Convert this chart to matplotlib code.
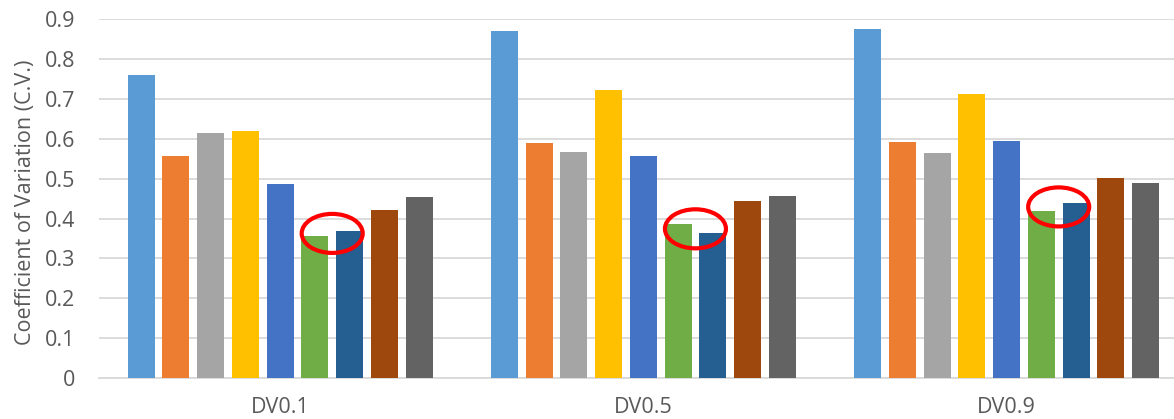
import matplotlib
matplotlib.use("Agg")
import matplotlib.pyplot as plt
from matplotlib.patches import Ellipse
import numpy as np

# Groups and per-method coefficient of variation values
categories = ["DV0.1", "DV0.5", "DV0.9"]
series_values = [
    [0.761, 0.871, 0.876],
    [0.557, 0.591, 0.592],
    [0.616, 0.567, 0.564],
    [0.621, 0.724, 0.713],
    [0.488, 0.558, 0.595],
    [0.357, 0.386, 0.420],
    [0.369, 0.363, 0.439],
    [0.421, 0.444, 0.502],
    [0.454, 0.457, 0.489],
]
series_colors = ["#5B9BD5", "#ED7D31", "#A5A5A5", "#FFC000", "#4472C4",
                 "#70AD47", "#255E91", "#9E480E", "#636363"]
y_ticks = [0, 0.1, 0.2, 0.3, 0.4, 0.5, 0.6, 0.7, 0.8, 0.9]
y_tick_labels = ["0", "0.1", "0.2", "0.3", "0.4", "0.5", "0.6", "0.7", "0.8", "0.9"]
highlight_pair = (5, 6)  # series circled in each group

plt.rcParams["font.family"] = ["Open Sans", "DejaVu Sans"]
text_color = "#595959"
grid_color = "#D9D9D9"
font_size = 15.5

fig = plt.figure(figsize=(11.74, 4.19), dpi=100)
ax = fig.add_axes([98.5 / 1174, 41 / 419, (1174 - 98.5) / 1174, 358.5 / 419])

x = np.arange(len(categories))
step = 0.0956
width = 0.0744
n = len(series_values)
offsets = [(i - (n - 1) / 2) * step for i in range(n)]

for vals, col, off in zip(series_values, series_colors, offsets):
    ax.bar(x + off, vals, width=width, color=col, edgecolor="none", zorder=3)

# Red ellipses around the pair of highlighted bars in each group
a, b = highlight_pair
for gi in range(len(categories)):
    cx = gi + (offsets[a] + offsets[b]) / 2
    cy = (series_values[a][gi] + series_values[b][gi]) / 2
    ax.add_patch(Ellipse((cx, cy), width=0.168, height=0.098, fill=False,
                         edgecolor="#FF0000", linewidth=3, zorder=5,
                         clip_on=False))

ax.set_xlim(-0.5, 2 + (1174 - 1006.7) / 363)
ax.set_ylim(0, 0.9)
ax.set_xticks(x)
ax.set_xticklabels(categories)
ax.set_yticks(y_ticks)
ax.set_yticklabels(y_tick_labels)
ax.tick_params(axis="both", length=0, labelsize=font_size, colors=text_color)
ax.tick_params(axis="y", pad=17)
ax.tick_params(axis="x", pad=14)

ax.yaxis.grid(True, color=grid_color, linewidth=1.3, zorder=0)
ax.set_axisbelow(True)
for s in ["top", "right", "left"]:
    ax.spines[s].set_visible(False)
ax.spines["bottom"].set_color(grid_color)
ax.spines["bottom"].set_linewidth(1.3)

ax.set_ylabel("Coefficient of Variation (C.V.)", fontsize=font_size, color=text_color)
ax.yaxis.set_label_coords((36 - 98.5) / (1174 - 98.5), 0.49)

fig.savefig("out.png", dpi=100)
